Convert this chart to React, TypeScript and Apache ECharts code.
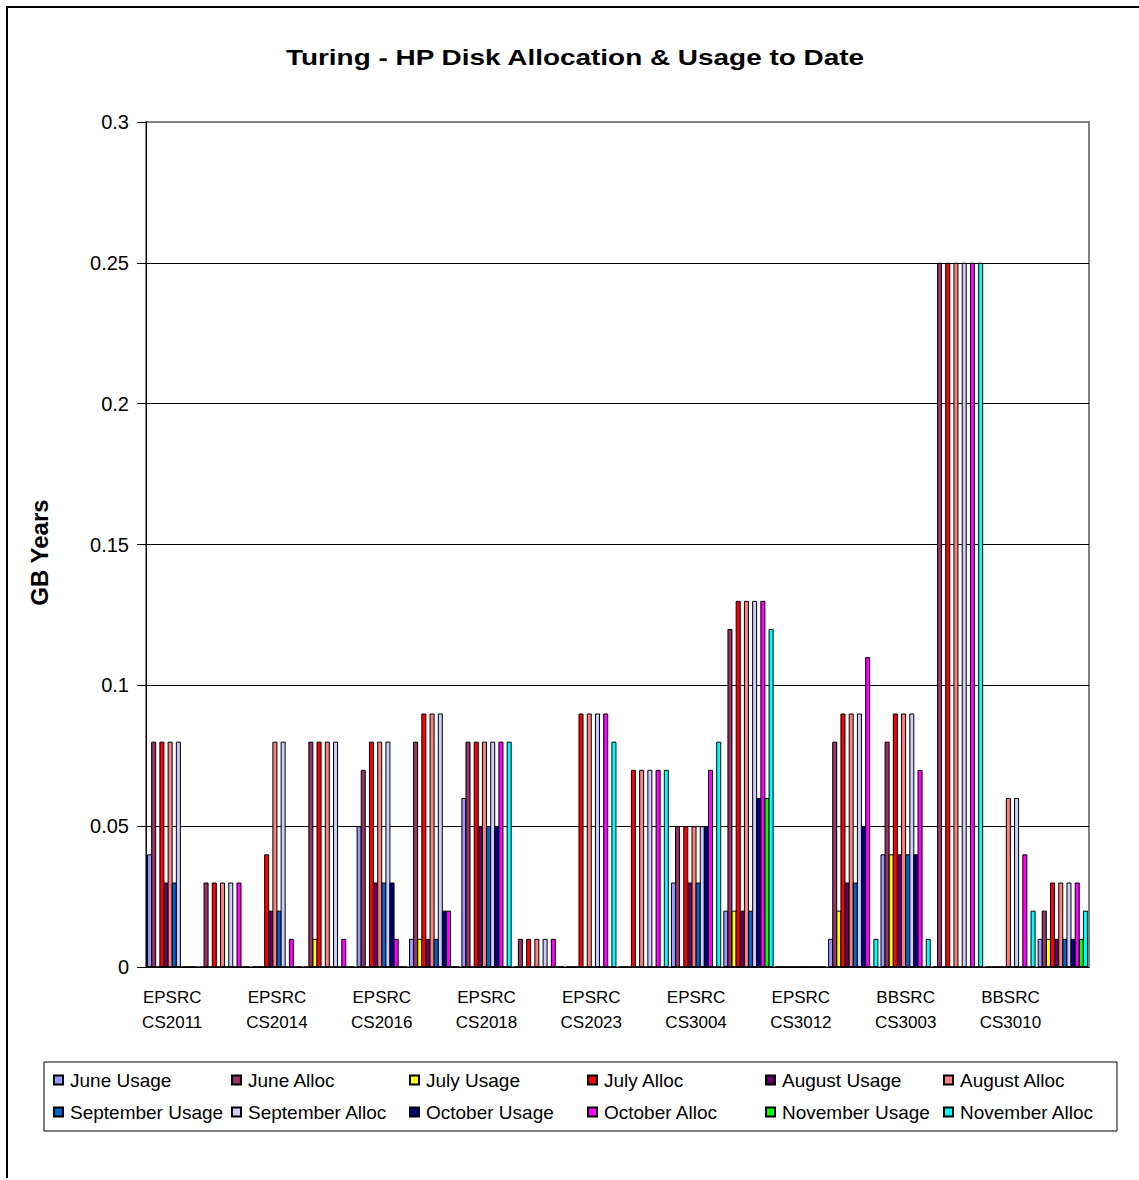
import React, { useEffect, useRef } from "react";
import * as echarts from "echarts";

const categories = [
  "EPSRC\nCS2011", "", "EPSRC\nCS2014", "", "EPSRC\nCS2016", "", "EPSRC\nCS2018", "",
  "EPSRC\nCS2023", "", "EPSRC\nCS3004", "", "EPSRC\nCS3012", "", "BBSRC\nCS3003", "",
  "BBSRC\nCS3010", "",
];

const seriesNames = [
  "June Usage", "June Alloc", "July Usage", "July Alloc", "August Usage", "August Alloc",
  "September Usage", "September Alloc", "October Usage", "October Alloc", "November Usage", "November Alloc",
];

const seriesColors = [
  "#9999FF", "#993366", "#FFFF00", "#FF0000", "#660066", "#FF8080",
  "#0066CC", "#CCCCFF", "#000080", "#FF00FF", "#00FF00", "#00FFFF",
];

const juneUsage = [0.04, 0, 0, 0, 0.05, 0.01, 0.06, 0, 0, 0, 0.03, 0.02, 0, 0.01, 0.04, 0, 0, 0.01];
const juneAlloc = [0.08, 0.03, 0, 0.08, 0.07, 0.08, 0.08, 0.01, 0, 0, 0.05, 0.12, 0, 0.08, 0.08, 0.25, 0, 0.02];
const julyUsage = [0, 0, 0, 0.01, 0, 0.01, 0, 0, 0, 0, 0, 0.02, 0, 0.02, 0.04, 0, 0, 0.01];
const julyAlloc = [0.08, 0.03, 0.04, 0.08, 0.08, 0.09, 0.08, 0.01, 0.09, 0.07, 0.05, 0.13, 0, 0.09, 0.09, 0.25, 0, 0.03];
const augustUsage = [0.03, 0, 0.02, 0, 0.03, 0.01, 0.05, 0, 0, 0, 0.03, 0.02, 0, 0.03, 0.04, 0, 0, 0.01];
const augustAlloc = [0.08, 0.03, 0.08, 0.08, 0.08, 0.09, 0.08, 0.01, 0.09, 0.07, 0.05, 0.13, 0, 0.09, 0.09, 0.25, 0.06, 0.03];
const septemberUsage = [0.03, 0, 0.02, 0, 0.03, 0.01, 0.05, 0, 0, 0, 0.03, 0.02, 0, 0.03, 0.04, 0, 0, 0.01];
const septemberAlloc = [0.08, 0.03, 0.08, 0.08, 0.08, 0.09, 0.08, 0.01, 0.09, 0.07, 0.05, 0.13, 0, 0.09, 0.09, 0.25, 0.06, 0.03];
const octoberUsage = [0, 0, 0, 0, 0.03, 0.02, 0.05, 0, 0, 0, 0.05, 0.06, 0, 0.05, 0.04, 0, 0, 0.01];
const octoberAlloc = [0, 0.03, 0.01, 0.01, 0.01, 0.02, 0.08, 0.01, 0.09, 0.07, 0.07, 0.13, 0, 0.11, 0.07, 0.25, 0.04, 0.03];
const novemberUsage = [0, 0, 0, 0, 0, 0, 0, 0, 0, 0, 0, 0.06, 0, 0, 0, 0, 0, 0.01];
const novemberAlloc = [0, 0, 0, 0, 0, 0, 0.08, 0, 0.08, 0.07, 0.08, 0.12, 0, 0.01, 0.01, 0.25, 0.02, 0.02];

const seriesValues = [
  juneUsage, juneAlloc, julyUsage, julyAlloc, augustUsage, augustAlloc,
  septemberUsage, septemberAlloc, octoberUsage, octoberAlloc, novemberUsage, novemberAlloc,
];

const TITLE = "Turing - HP Disk Allocation & Usage to Date";
const FONT = "'Liberation Sans', Arial, sans-serif";

export default function App() {
  const ref = useRef<HTMLDivElement>(null);

  useEffect(() => {
    if (!ref.current) return;
    const chart = echarts.init(ref.current, null, { renderer: "svg" });

    const legends = seriesNames.map((name, i) => {
      const col = i % 6;
      const row = Math.floor(i / 6);
      return {
        data: [name],
        left: 45 + 178 * col,
        top: 1062 + 32 * row,
        padding: 0,
        icon: "rect",
        itemWidth: 9,
        itemHeight: 9,
        selectedMode: false,
        textStyle: { fontFamily: FONT, fontSize: 19, color: "#000", lineHeight: 20, padding: [0, 0, 0, 2] },
      };
    });

    chart.setOption({
      animation: false,
      backgroundColor: "#fff",
      legend: legends,
      graphic: [
        {
          type: "text",
          x: 567,
          y: 49,
          scaleX: 1.27,
          style: {
            text: TITLE,
            fontFamily: FONT,
            fontSize: 22,
            fontWeight: "bold",
            fill: "#000",
            textAlign: "center",
            textVerticalAlign: "middle",
          },
        },
        {
          type: "rect",
          shape: { x: 36, y: 1054, width: 1073, height: 69 },
          style: { fill: "transparent", stroke: "#000", lineWidth: 1 },
          z: 0,
        },
      ],
      grid: {
        left: 138,
        top: 114,
        width: 943,
        height: 845,
        show: true,
        borderColor: "#808080",
        borderWidth: 2,
        backgroundColor: "#fff",
      },
      xAxis: {
        type: "category",
        data: categories,
        axisLine: { lineStyle: { color: "#000", width: 1 } },
        axisTick: { interval: 0, length: 6, lineStyle: { color: "#000" } },
        axisLabel: {
          interval: 0,
          margin: 18,
          fontFamily: FONT,
          fontSize: 17,
          lineHeight: 25,
          color: "#000",
        },
      },
      yAxis: {
        type: "value",
        min: 0,
        max: 0.3,
        interval: 0.05,
        name: "GB Years",
        nameLocation: "middle",
        nameRotate: 90,
        nameGap: 95,
        nameTextStyle: { fontFamily: FONT, fontSize: 24, fontWeight: "bold", color: "#000", padding: [0, 16, 0, 0] },
        axisLine: { show: true, lineStyle: { color: "#000", width: 1 } },
        axisTick: { show: true, length: 9, lineStyle: { color: "#000" } },
        axisLabel: {
          margin: 17,
          fontFamily: FONT,
          fontSize: 20,
          color: "#000",
          formatter: (v: number) => String(Math.round(v * 100) / 100),
        },
        splitLine: {
          show: true,
          lineStyle: { color: ["#000", "#000", "#000", "#000", "#000", "#000", "#808080"], width: 1 },
        },
      },
      series: seriesNames.map((name, i) => ({
        type: "bar",
        name,
        data: seriesValues[i],
        barCategoryGap: "4%",
        barGap: "-18%",
        itemStyle: { color: seriesColors[i], borderColor: "#000", borderWidth: 1 },
      })),
    });

    return () => chart.dispose();
  }, []);

  return (
    <div
      style={{
        position: "absolute",
        left: 6,
        top: 6,
        borderLeft: "2px solid #000",
        borderTop: "2px solid #000",
      }}
    >
      <div ref={ref} style={{ width: 1131, height: 1170 }} />
    </div>
  );
}
